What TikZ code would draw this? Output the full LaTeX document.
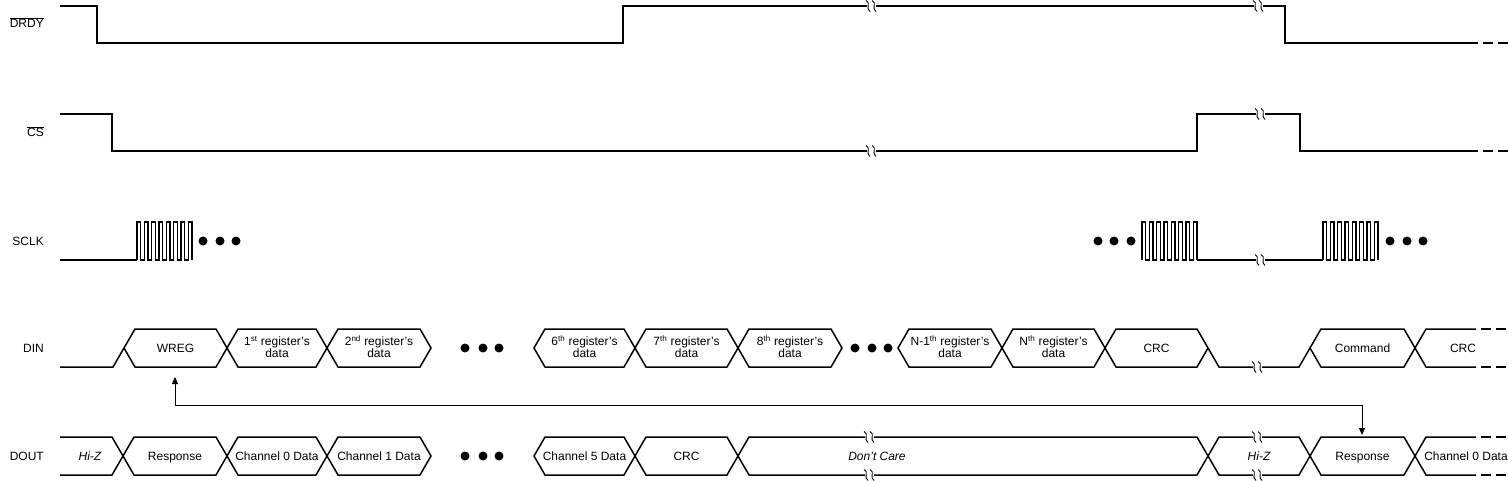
\documentclass[tikz,border=0pt]{standalone}
\usepackage{fontspec}
\setmainfont{Liberation Sans}
\usetikzlibrary{arrows.meta}
\tikzset{
  sig/.style={line width=1.5pt, line join=miter},
  dashend/.style={line width=1.5pt, dash pattern=on 10pt off 5pt},
  brkline/.style={line width=0.9pt},
  lbl/.style={font=\fontsize{12}{13}\selectfont, inner sep=0pt},
  bustext/.style={font=\fontsize{12}{12}\selectfont, inner sep=0pt, align=center},
  itbus/.style={font=\fontsize{12}{12}\selectfont\itshape, inner sep=0pt, anchor=base},
  arr/.style={line width=0.9pt, {Triangle[length=7pt,width=6pt]}-{Triangle[length=7pt,width=6pt]}},
}
% hexagon outline: left x, right x, mid y
\newcommand\hexshape[3]{%
  \draw[sig] (#1,#3) -- (#1+11,#3-19) -- (#2-11,#3-19) -- (#2,#3) -- (#2-11,#3+19) -- (#1+11,#3+19) -- cycle;
}
% hexagon bus segment with one line of text: name, left x, right x, mid y, text
\newcommand\hexbus[5]{%
  \hexshape{#2}{#3}{#4}
  \node[bustext, anchor=base] (#1) at ({(#2+#3)/2},#4+4.3) {#5};
}
% hexagon bus segment with two lines of text
\newcommand\hexbusII[6]{%
  \hexshape{#2}{#3}{#4}
  \node[bustext, anchor=base] (#1) at ({(#2+#3)/2},#4-2.5) {#5};
  \node[bustext, anchor=base] (#1b) at ({(#2+#3)/2},#4+9.5) {#6};
}
% break mark: x, y
\newcommand\brkmark[2]{%
  \fill[white] (#1-4.5,#2-2.2) rectangle (#1+4.5,#2+2.2);
  \draw[brkline] (#1-5,#2-5.5) .. controls (#1+0.5,#2-3.5) and (#1-6,#2+2.5) .. (#1-1,#2+5.5);
  \draw[brkline] (#1+1,#2-5.5) .. controls (#1+6.5,#2-3.5) and (#1,#2+2.5) .. (#1+5,#2+5.5);
}
\newcommand\clkgroup[1]{%
  \draw[sig] (#1,260) \foreach \k in {0,...,6} { -- ++(0,-38) -- ++(3.667,0) -- ++(0,38) -- ++(3.667,0) } -- ++(0,-38) -- ++(3.667,0) -- ++(0,38);
}
\begin{document}
\begin{tikzpicture}[x=1pt,y=-1pt]
\useasboundingbox (0,0) rectangle (1508,481);

% ---------- labels ----------
\node[lbl, anchor=base east] (lDRDY) at (44,28) {$\overline{\mbox{DRDY}}$};
\node[lbl, anchor=base east] (lCS) at (44,137) {$\overline{\mbox{CS}}$};
\node[lbl, anchor=base east] (lSCLK) at (44,245.5) {SCLK};
\node[lbl, anchor=base east] (lDIN) at (44,352.5) {DIN};
\node[lbl, anchor=base east] (lDOUT) at (44,460.5) {DOUT};

% ---------- DRDY ----------
\draw[sig] (60,6) -- (97,6) -- (97,43) -- (623,43) -- (623,6) -- (1285,6) -- (1285,43) -- (1478,43);
\draw[dashend] (1483,43) -- (1508,43);
\brkmark{871}{6}
\brkmark{1258}{6}

% ---------- CS ----------
\draw[sig] (60,114) -- (112,114) -- (112,151) -- (1197,151) -- (1197,114) -- (1300,114) -- (1300,151) -- (1478,151);
\draw[dashend] (1483,151) -- (1508,151);
\brkmark{871}{151}
\brkmark{1260}{114}

% ---------- SCLK ----------
\draw[sig] (60,260) -- (137,260);
\clkgroup{137}
\clkgroup{1142}
\draw[sig] (1197,260) -- (1323,260);
\clkgroup{1323}
\brkmark{1260}{260}
\foreach \x in {203,220,236,1098,1114,1131,1390,1407,1423} \fill (\x,241) circle (4.5);

% ---------- DIN ----------
\draw[sig] (60,367) -- (113,367) -- (124,348);
\hexbus{wreg}{124}{227}{348}{WREG}
\hexbusII{r1}{227}{327}{348}{1\textsuperscript{st} register’s}{data}
\hexbusII{r2}{327}{431}{348}{2\textsuperscript{nd} register’s}{data}
\foreach \x in {465,483,499} \fill (\x,348) circle (4.5);
\hexbusII{r6}{534}{635}{348}{6\textsuperscript{th} register’s}{data}
\hexbusII{r7}{635}{738}{348}{7\textsuperscript{th} register’s}{data}
\hexbusII{r8}{738}{842}{348}{8\textsuperscript{th} register’s}{data}
\foreach \x in {855,872,888} \fill (\x,348) circle (4.5);
\hexbusII{rn1}{898}{1002}{348}{N-1\textsuperscript{th} register’s}{data}
\hexbusII{rn}{1002}{1105}{348}{N\textsuperscript{th} register’s}{data}
\hexbus{crcin}{1105}{1208}{348}{CRC}
\draw[sig] (1208,348) -- (1219,367) -- (1299,367) -- (1310,348);
\brkmark{1257}{367}
\hexbus{cmd}{1310}{1415}{348}{Command}
\draw[sig] (1476,329) -- (1426,329) -- (1415,348) -- (1426,367) -- (1476,367);
\draw[dashend] (1481,329) -- (1508,329);
\draw[dashend] (1481,367) -- (1508,367);
\node[bustext, anchor=base] (crcin2) at (1463,352.3) {CRC};

% ---------- DOUT ----------
\draw[sig] (60,437) -- (112,437) -- (123,456) -- (112,475) -- (60,475);
\node[itbus] (hiz1) at (90,460.3) {Hi-Z};
\hexbus{resp1}{123}{227}{456}{Response}
\hexbus{ch0}{227}{327}{456}{Channel 0 Data}
\hexbus{ch1}{327}{431}{456}{Channel 1 Data}
\foreach \x in {465,483,499} \fill (\x,456) circle (4.5);
\hexbus{ch5}{534}{635}{456}{Channel 5 Data}
\hexbus{crcout}{635}{738}{456}{CRC}
\hexshape{738}{1208}{456}
\node[itbus] (dctext) at (877,460.3) {Don’t Care};
\brkmark{869}{437}
\brkmark{869}{475}
\hexshape{1208}{1310}{456}
\node[itbus] (hiz2) at (1259,460.3) {Hi-Z};
\brkmark{1257}{437}
\brkmark{1257}{475}
\hexbus{resp2}{1310}{1415}{456}{Response}
\draw[sig] (1476,437) -- (1426,437) -- (1415,456) -- (1426,475) -- (1476,475);
\draw[dashend] (1481,437) -- (1508,437);
\draw[dashend] (1481,475) -- (1508,475);
\node[bustext, anchor=base] (ch0b) at (1466,460.3) {Channel 0 Data};

% ---------- arrow ----------
\coordinate (wregtip) at (175,377);
\coordinate (resptip) at (1362,435);
\coordinate (arrcorner) at (1362,405);
\draw[arr] (wregtip) |- (arrcorner) -- (resptip);
\end{tikzpicture}
\end{document}
